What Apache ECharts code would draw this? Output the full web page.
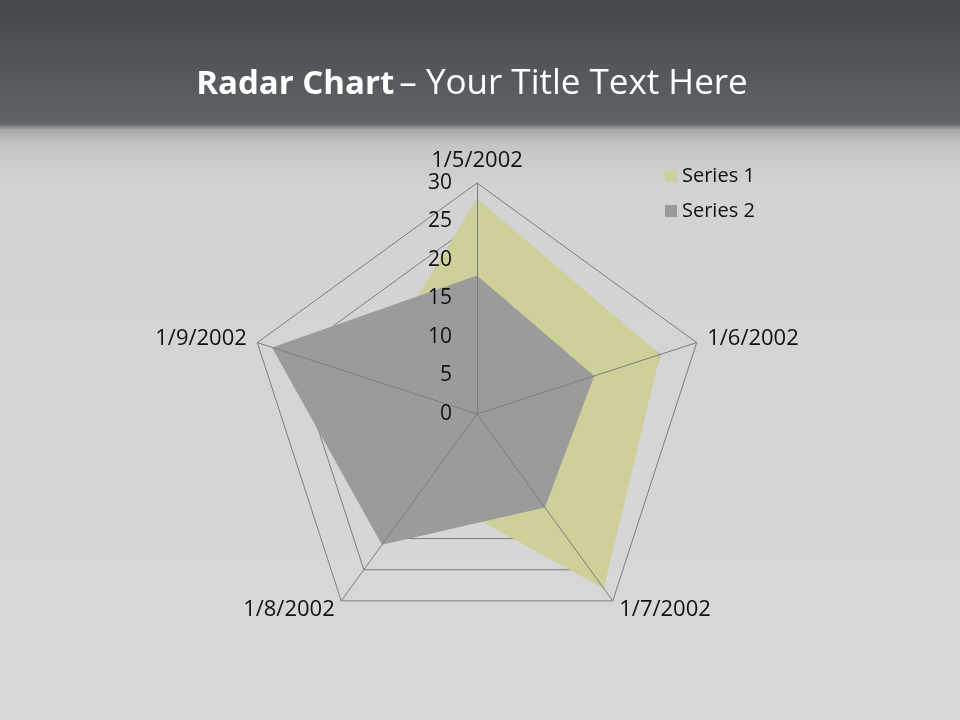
<!DOCTYPE html>
<html>
<head>
<meta charset="utf-8">
<script src="https://cdn.jsdelivr.net/npm/echarts@6/dist/echarts.min.js"></script>
<style>html,body{margin:0;padding:0;}#main{width:960px;height:720px;}</style>
</head>
<body>
<div id="main"></div>
<script>
const categories = ['1/5/2002', '1/6/2002', '1/7/2002', '1/8/2002', '1/9/2002'];
const series1 = [28, 25, 28, 12, 15];
const series2 = [18, 16, 15, 21, 28];
const seriesNames = ['Series 1', 'Series 2'];
const axisMax = 30;
const tickLabels = ['0', '5', '10', '15', '20', '25', '30'];

// ECharts lays indicators counter-clockwise; the reference runs clockwise.
const order = [0, 4, 3, 2, 1];
const FONT = '"Open Sans", "Noto Sans", sans-serif';

const indicatorsBase = order.map(i => ({ name: categories[i], min: 0, max: axisMax }));
const indicatorsTop = order.map((i, k) => ({
  name: categories[i], min: 0, max: axisMax,
  axisLabel: { show: k === 0 }
}));

const chart = echarts.init(document.getElementById('main'));
chart.setOption({
  backgroundColor: {
    type: 'linear', x: 0, y: 0, x2: 0, y2: 1,
    colorStops: [
      { offset: 0, color: '#43474a' },
      { offset: 0.172, color: '#5f6467' },
      { offset: 0.18, color: '#a5a7a9' },
      { offset: 0.2, color: '#c4c5c6' },
      { offset: 0.26, color: '#d3d3d3' },
      { offset: 1, color: '#d8d8d8' }
    ]
  },
  title: {
    text: '{b|Radar Chart} {r|– Your Title Text Here}',
    left: 467, top: 62, textAlign: 'center',
    textStyle: {
      rich: {
        b: { fontFamily: FONT, fontWeight: 'bold', fontSize: 33, color: '#ffffff' },
        r: { fontFamily: FONT, fontWeight: 'normal', fontSize: 35, color: '#ffffff' }
      }
    }
  },
  legend: {
    data: seriesNames,
    orient: 'vertical',
    left: 660, top: 161,
    icon: 'rect', itemWidth: 12, itemHeight: 12, itemGap: 15,
    textStyle: { fontFamily: FONT, fontSize: 20, color: '#111111' }
  },
  radar: [
    {
      center: [477, 414], radius: 231, startAngle: 90,
      shape: 'polygon', splitNumber: 6, z: 0,
      indicator: indicatorsBase,
      axisName: { color: '#111111', fontFamily: FONT, fontSize: 22 },
      nameGap: 11,
      axisLine: { show: false },
      splitLine: { show: true, lineStyle: { color: '#7d7d7d', width: 1 } },
      splitArea: { show: false },
      axisLabel: { show: false }
    },
    {
      center: [477, 414], radius: 231, startAngle: 90,
      shape: 'polygon', splitNumber: 6, z: 5,
      indicator: indicatorsTop,
      axisName: { show: false },
      axisLine: { show: true, lineStyle: { color: '#7d7d7d', width: 1 } },
      splitLine: { show: false },
      splitArea: { show: false },
      axisTick: { show: false },
      axisLabel: {
        show: false, margin: 25, color: '#111111', fontFamily: FONT, fontSize: 21,
        padding: [5, 0, 0, 0],
        formatter: (v) => tickLabels[Math.round(v / 5)] ?? String(v)
      }
    }
  ],
  series: [{
    type: 'radar', radarIndex: 0, z: 2,
    symbol: 'none',
    data: [
      {
        name: seriesNames[0], value: order.map(i => series1[i]),
        itemStyle: { color: '#cfcf9a' },
        lineStyle: { width: 0, color: '#cfcf9a' },
        areaStyle: { color: '#cfcf9a', opacity: 1 }
      },
      {
        name: seriesNames[1], value: order.map(i => series2[i]),
        itemStyle: { color: '#9b9b9b' },
        lineStyle: { width: 0, color: '#9b9b9b' },
        areaStyle: { color: '#9b9b9b', opacity: 1 }
      }
    ]
  }]
});
</script>
</body>
</html>
